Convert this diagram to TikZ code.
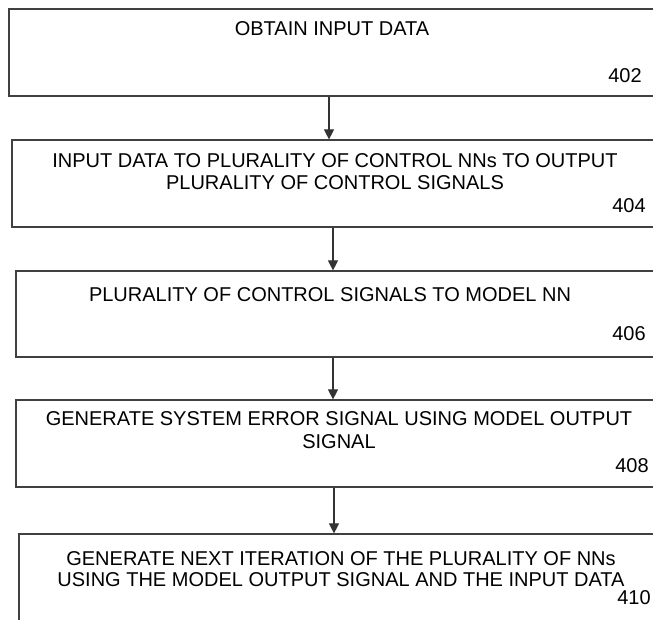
\documentclass[tikz,border=0pt]{standalone}
\usepackage{fontspec}
\setmainfont{Liberation Sans}
\usetikzlibrary{arrows.meta,fit}
\begin{document}
\begin{tikzpicture}[x=0.75pt,y=-0.75pt,
  stepbox/.style={draw=black!75,line width=0.9pt,inner sep=0pt,fit=#1},
  label/.style={inner sep=0pt,anchor=base,font=\fontsize{15}{18}\selectfont},
  refno/.style={inner sep=0pt,anchor=base east,font=\fontsize{15}{18}\selectfont},
  flow/.style={draw=black!80,line width=0.8pt,-{Triangle[width=7.5pt,length=7.5pt]}}]
% page frame
\useasboundingbox (0,0) rectangle (653,619);
\fill[white] (0,0) rectangle (653,619);
\clip (0,0) rectangle (653,619);

% box corners (right edges run past the page)
\coordinate (p1a) at (9,9);    \coordinate (p1b) at (655,96);
\coordinate (p2a) at (12,140); \coordinate (p2b) at (658,227);
\coordinate (p3a) at (16,271); \coordinate (p3b) at (656,357);
\coordinate (p4a) at (16,400); \coordinate (p4b) at (662,487);
\coordinate (p5a) at (19,534); \coordinate (p5b) at (663,650);

\node[stepbox={(p1a)(p1b)}] (b1) {};
\node[stepbox={(p2a)(p2b)}] (b2) {};
\node[stepbox={(p3a)(p3b)}] (b3) {};
\node[stepbox={(p4a)(p4b)}] (b4) {};
\node[stepbox={(p5a)(p5b)}] (b5) {};

% step texts
\node[label] (t1) at (332,35) {OBTAIN INPUT DATA};
\node[label] (t2a) at (335,167) {INPUT DATA TO PLURALITY OF CONTROL NNs TO OUTPUT};
\node[label] (t2b) at (335,189) {PLURALITY OF CONTROL SIGNALS};
\node[label] (t3) at (330,301) {PLURALITY OF CONTROL SIGNALS TO MODEL NN};
\node[label] (t4a) at (339,425) {GENERATE SYSTEM ERROR SIGNAL USING MODEL OUTPUT};
\node[label] (t4b) at (339,448) {SIGNAL};
\node[label] (t5a) at (341,565) {GENERATE NEXT ITERATION OF THE PLURALITY OF NNs};
\node[label] (t5b) at (341,586) {USING THE MODEL OUTPUT SIGNAL AND THE INPUT DATA};

% reference numerals
\node[refno] (n1) at (642,82) {402};
\node[refno] (n2) at (646,212) {404};
\node[refno] (n3) at (646,340) {406};
\node[refno] (n4) at (649,472) {408};
\node[refno] (n5) at (651,604) {410};

% connectors
\coordinate (x1) at (329,0);
\coordinate (x2) at (333,0);
\coordinate (x3) at (333,0);
\coordinate (x4) at (334,0);
\draw[flow] (x1 |- b1.south) -- (x1 |- b2.north);
\draw[flow] (x2 |- b2.south) -- (x2 |- b3.north);
\draw[flow] (x3 |- b3.south) -- (x3 |- b4.north);
\draw[flow] (x4 |- b4.south) -- (x4 |- b5.north);
\end{tikzpicture}
\end{document}
